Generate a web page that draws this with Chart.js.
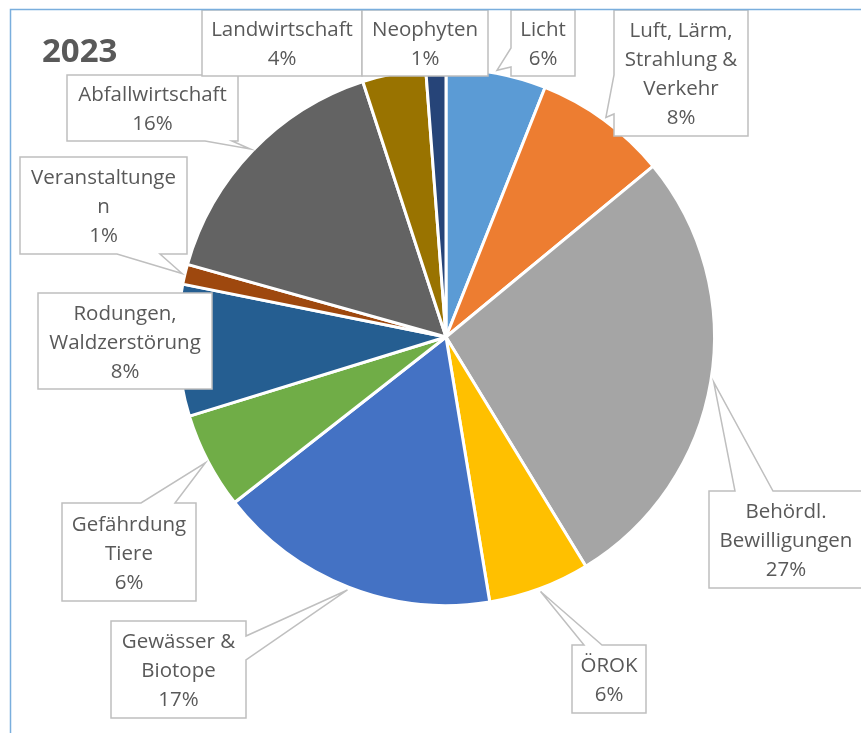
<!DOCTYPE html>
<html><head><meta charset="utf-8">
<script src="https://cdn.jsdelivr.net/npm/chart.js@4.4.1/dist/chart.umd.min.js"></script>
<style>html,body{margin:0;padding:0;background:#fff}canvas{display:block}</style>
</head><body><canvas id="c" width="861" height="733"></canvas>
<script>
// ---- data ----
const chartTitle = '2023';
const categories = [
  ['Licht'],
  ['Luft, Lärm,', 'Strahlung &', 'Verkehr'],
  ['Behördl.', 'Bewilligungen'],
  ['ÖROK'],
  ['Gewässer &', 'Biotope'],
  ['Gefährdung', 'Tiere'],
  ['Rodungen,', 'Waldzerstörung'],
  ['Veranstaltunge', 'n'],
  ['Abfallwirtschaft'],
  ['Landwirtschaft'],
  ['Neophyten']
];
const shares = [6.0, 8.0, 27.2, 6.1, 17.0, 5.8, 7.9, 1.2, 15.6, 3.8, 1.2];

// ---- style ----
const sliceColors = ['#5B9BD5', '#ED7D31', '#A5A5A5', '#FFC000', '#4472C4', '#70AD47',
                     '#255E91', '#9E480E', '#636363', '#997300', '#264478'];
const FONT = '"Open Sans", "Liberation Sans", sans-serif';
const TEXT = '#595959';
// callout box layout (annotation placement): [x, y, w, h], pointer side and base span
const callouts = [
  {box: [511, 10, 64, 66],   side: 'left',   base: [48, 67]},
  {box: [614, 10, 134, 126], side: 'left',   base: [75, 114]},
  {box: [709, 491, 180, 97], side: 'top',    base: [735, 773]},
  {box: [572, 645, 74, 68],  side: 'top',    base: [584, 602]},
  {box: [111, 621, 135, 97], side: 'right',  base: [636, 660]},
  {box: [62, 503, 134, 98],  side: 'top',    base: [141, 175]},
  {box: [38, 293, 174, 96],  side: null},
  {box: [20, 157, 167, 97],  side: 'bottom', base: [117, 160]},
  {box: [67, 75, 171, 66],   side: 'bottom', base: [205, 232]},
  {box: [202, 10, 160, 66],  side: null},
  {box: [362, 10, 126, 66],  side: null}
];

function boxPath(ctx, b, side, base, tip) {
  const [x, y, w, h] = b;
  ctx.beginPath();
  ctx.moveTo(x, y);
  if (side === 'top') { ctx.lineTo(base[0], y); ctx.lineTo(tip.x, tip.y); ctx.lineTo(base[1], y); }
  ctx.lineTo(x + w, y);
  if (side === 'right') { ctx.lineTo(x + w, base[0]); ctx.lineTo(tip.x, tip.y); ctx.lineTo(x + w, base[1]); }
  ctx.lineTo(x + w, y + h);
  if (side === 'bottom') { ctx.lineTo(base[1], y + h); ctx.lineTo(tip.x, tip.y); ctx.lineTo(base[0], y + h); }
  ctx.lineTo(x, y + h);
  if (side === 'left') { ctx.lineTo(x, base[1]); ctx.lineTo(tip.x, tip.y); ctx.lineTo(x, base[0]); }
  ctx.closePath();
}

const calloutPlugin = {
  id: 'callouts',
  afterDatasetsDraw(chart) {
    const ctx = chart.ctx;
    const meta = chart.getDatasetMeta(0);
    const data = chart.data.datasets[0].data;
    const total = data.reduce((a, b) => a + b, 0);
    ctx.save();
    meta.data.forEach((arc, i) => {
      const p = arc.getProps(['x', 'y', 'startAngle', 'endAngle', 'outerRadius'], true);
      const mid = (p.startAngle + p.endAngle) / 2;
      const tip = {x: p.x + Math.cos(mid) * (p.outerRadius + 3), y: p.y + Math.sin(mid) * (p.outerRadius + 3)};
      const c = callouts[i];
      boxPath(ctx, c.box, c.side, c.base, tip);
      ctx.fillStyle = '#FFFFFF';
      ctx.fill();
      ctx.strokeStyle = '#BFBFBF';
      ctx.lineWidth = 1.5;
      ctx.stroke();
      const lines = chart.data.labels[i].concat([Math.round(data[i] / total * 100) + '%']);
      const lh = 29;
      const cx = c.box[0] + c.box[2] / 2;
      const cy = c.box[1] + c.box[3] / 2;
      const bx = (i === 2) ? c.box[0] + 77 : cx;
      ctx.fillStyle = TEXT;
      ctx.font = '20.5px ' + FONT;
      ctx.textAlign = 'center';
      ctx.textBaseline = 'middle';
      lines.forEach((t, k) => {
        ctx.fillText(t, bx, cy + (k - (lines.length - 1) / 2) * lh + 2);
      });
    });
    ctx.restore();
  },
  afterDraw(chart) {
    const ctx = chart.ctx;
    ctx.save();
    ctx.fillStyle = TEXT;
    ctx.font = 'bold 33px ' + FONT;
    ctx.textAlign = 'left';
    ctx.textBaseline = 'alphabetic';
    ctx.fillText(chartTitle, 42, 62);
    ctx.strokeStyle = '#7AAEDD';
    ctx.lineWidth = 1.5;
    ctx.beginPath();
    ctx.moveTo(861, 9.5);
    ctx.lineTo(10.5, 9.5);
    ctx.lineTo(10.5, 733);
    ctx.stroke();
    ctx.restore();
  }
};

new Chart(document.getElementById('c'), {
  type: 'pie',
  data: {
    labels: categories,
    datasets: [{
      data: shares,
      backgroundColor: sliceColors,
      borderColor: '#FFFFFF',
      borderWidth: 3
    }]
  },
  options: {
    responsive: false,
    animation: false,
    layout: {padding: {left: 176, right: 145, top: 67, bottom: 126}},
    plugins: {legend: {display: false}, tooltip: {enabled: false}, title: {display: false}}
  },
  plugins: [calloutPlugin]
});
</script>
</body></html>
